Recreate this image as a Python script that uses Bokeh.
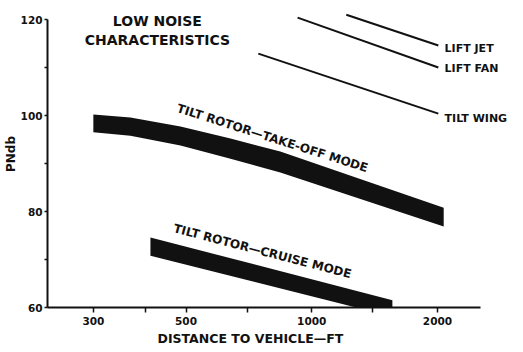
from bokeh.plotting import figure
from bokeh.models import Range1d, FixedTicker, PrintfTickFormatter, Label, Title
from bokeh.embed import file_html
from bokeh.resources import INLINE

# ---- data (distance in ft, noise in PNdB) ----
lift_jet_dist = [1210, 2010]
lift_jet_pndb = [121.0, 114.6]

lift_fan_dist = [925, 2010]
lift_fan_pndb = [120.4, 110.0]

tilt_wing_dist = [745, 2010]
tilt_wing_pndb = [112.9, 100.4]

takeoff_dist = [300, 368, 485, 639, 841, 2070]
takeoff_upper = [100.2, 99.6, 97.7, 95.2, 92.5, 80.8]
takeoff_lower = [96.5, 95.8, 93.75, 91.0, 88.1, 76.9]

cruise_dist = [411, 1560]
cruise_upper = [74.6, 61.5]
cruise_lower = [70.8, 58.1]

x_ticks = [300, 500, 1000, 2000]
x_minor = [400, 700, 1400]
y_ticks = [60, 80, 100, 120]
y_minor = [70, 90, 110]

INK = "#111111"
FONT = "DejaVu Sans"

p = figure(width=523, height=352, x_axis_type="log",
           x_range=Range1d(233, 3214), y_range=Range1d(60, 123.96),
           output_backend="svg", toolbar_location=None,
           min_border_left=47, min_border_right=0,
           min_border_top=0, min_border_bottom=45)
p.outline_line_color = None
p.xgrid.visible = False
p.ygrid.visible = False
p.background_fill_color = "white"
p.border_fill_color = "white"

# bands
p.varea(x=takeoff_dist, y1=takeoff_lower, y2=takeoff_upper, fill_color=INK)
p.varea(x=cruise_dist, y1=cruise_lower, y2=cruise_upper, fill_color=INK)

# lines
for xs, ys in [(lift_jet_dist, lift_jet_pndb), (lift_fan_dist, lift_fan_pndb),
               (tilt_wing_dist, tilt_wing_pndb)]:
    p.line(xs, ys, line_color=INK, line_width=2)

# axes
xa = p.xaxis[0]
xa.ticker = FixedTicker(ticks=x_ticks, minor_ticks=x_minor)
xa.formatter = PrintfTickFormatter(format="%d")
xa.bounds = (233, 2537)
ya = p.yaxis[0]
ya.ticker = FixedTicker(ticks=y_ticks, minor_ticks=y_minor)
ya.bounds = (60, 120)
for ax in (xa, ya):
    ax.axis_line_color = INK
    ax.axis_line_width = 2
    ax.major_tick_line_color = INK
    ax.major_tick_line_width = 1.5
    ax.minor_tick_line_color = INK
    ax.minor_tick_line_width = 1.5
    ax.major_tick_in = 0
    ax.minor_tick_in = 0
    ax.major_label_text_font = FONT
    ax.major_label_text_font_style = "bold"
    ax.major_label_text_font_size = "10.5px"
    ax.major_label_text_color = INK
xa.major_tick_out = 5
xa.minor_tick_out = 5
ya.major_tick_out = 3
ya.minor_tick_out = 3
xa.major_label_standoff = 4
ya.major_label_standoff = 2

p.add_layout(Title(text="DISTANCE TO VEHICLE\u2014FT", align="left", offset=110,
                   text_font=FONT, text_font_style="bold", text_font_size="12.5px",
                   text_color=INK, standoff=2), "below")
p.add_layout(Title(text="PNdb", align="center",
                   text_font=FONT, text_font_style="bold", text_font_size="12px",
                   text_color=INK, standoff=0), "left")

def lab(x, y, text, size, align="left", angle=0.0):
    p.add_layout(Label(x=x, y=y, text=text, text_font=FONT, text_font_style="bold",
                       text_font_size=size, text_color=INK, text_align=align,
                       text_baseline="middle", angle=angle))

lab(427, 119.6, "LOW NOISE", "14px", "center")
lab(427, 115.7, "CHARACTERISTICS", "14px", "center")
lab(2080, 114.0, "LIFT  JET", "11px")
lab(2080, 109.8, "LIFT  FAN", "11px")
lab(2080, 99.4, "TILT  WING", "11px")
lab(823, 95.0, "TILT  ROTOR\u2014TAKE-OFF  MODE", "12px", "center", -0.308)
lab(779, 71.5, "TILT  ROTOR\u2014CRUISE  MODE", "12px", "center", -0.255)

open("out.html", "w").write(file_html(p, INLINE))
